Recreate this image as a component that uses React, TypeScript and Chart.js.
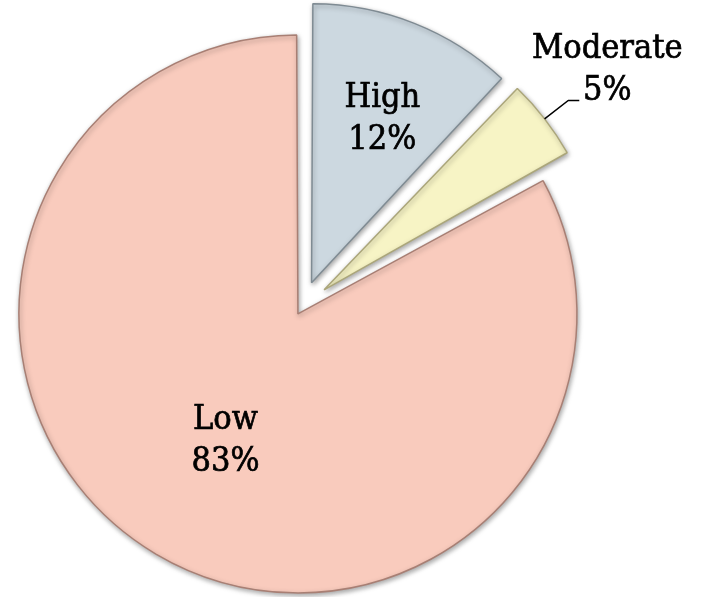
import React, { useEffect, useRef } from "react";
import { Chart, registerables } from "chart.js";

Chart.register(...registerables);

// ---- data ----
const categories: string[] = ["High", "Moderate", "Low"];
const percentages: number[] = [12, 5, 83];

// ---- styles ----
const sliceColors: string[] = ["#CCD8E0", "#F7F4C5", "#F9CBBD"];
const edgeColors: string[] = ["#7F8B93", "#ABA67A", "#A87F74"];
const explodeOffsets: number[] = [104, 112, 32];
const PIE_RADIUS = 279;
const LABEL_FONT = '34px "DejaVu Serif Condensed", "DejaVu Serif", "Liberation Serif", serif';

function sliceGeometry(arc: any) {
  const off = (arc.options.offset || 0) / 4;
  const mid = (arc.startAngle + arc.endAngle) / 2;
  const cx = arc.x + Math.cos(mid) * off;
  const cy = arc.y + Math.sin(mid) * off;
  return { cx, cy, mid };
}

// keep the drawn radius of each exploded slice equal
const radiusFixPlugin = {
  id: "radiusFix",
  afterDatasetUpdate(chart: any, args: any) {
    const meta = args.meta;
    meta.data.forEach((arc: any) => {
      const off = (arc.options.offset || 0) / 4;
      const circ = arc.endAngle - arc.startAngle;
      const fix = 1 - Math.sin(Math.min(Math.PI, circ));
      arc.outerRadius = PIE_RADIUS - off * fix;
    });
  },
};

const shadowPlugin = {
  id: "sliceShadow",
  beforeDatasetDraw(chart: any) {
    const ctx = chart.ctx;
    ctx.save();
    ctx.shadowColor = "rgba(0,0,0,0.35)";
    ctx.shadowBlur = 5;
    ctx.shadowOffsetX = 1;
    ctx.shadowOffsetY = 2;
  },
  afterDatasetDraw(chart: any) {
    chart.ctx.restore();
  },
};

function boldText(ctx: CanvasRenderingContext2D, text: string, x: number, y: number) {
  ctx.fillText(text, x, y);
  ctx.strokeText(text, x, y);
}

const labelPlugin = {
  id: "sliceLabels",
  afterDatasetsDraw(chart: any) {
    const ctx = chart.ctx;
    const meta = chart.getDatasetMeta(0);
    const values = chart.data.datasets[0].data as number[];
    const labels = chart.data.labels as string[];
    ctx.save();
    ctx.font = LABEL_FONT;
    ctx.fillStyle = "#000000";
    meta.data.forEach((arc: any, i: number) => {
      const { cx, cy, mid } = sliceGeometry(arc);
      const pct = values[i] + "%";
      ctx.textAlign = "center";
      ctx.textBaseline = "alphabetic";
      if (values[i] < 8) {
        const sx = cx + Math.cos(mid) * PIE_RADIUS;
        const sy = cy + Math.sin(mid) * PIE_RADIUS;
        const ex = cx + Math.cos(mid) * (PIE_RADIUS + 30);
        const ey = cy + Math.sin(mid) * (PIE_RADIUS + 30);
        const hx = ex + 11;
        ctx.strokeStyle = "#000000";
        ctx.lineWidth = 1.5;
        ctx.beginPath();
        ctx.moveTo(sx, sy);
        ctx.lineTo(ex, ey);
        ctx.lineTo(hx, ey);
        ctx.stroke();
        ctx.lineWidth = 0.7;
        boldText(ctx, pct, hx + 28, ey + 0);
        boldText(ctx, labels[i], hx + 28, ey - 42);
      } else {
        const frac = values[i] > 50 ? 0.51 : 0.65;
        const px = cx + Math.cos(mid) * PIE_RADIUS * frac + (values[i] > 50 ? 0 : 4);
        const py = cy + Math.sin(mid) * PIE_RADIUS * frac;
        ctx.strokeStyle = "#000000";
        ctx.lineWidth = 0.7;
        boldText(ctx, labels[i], px, py - 7);
        boldText(ctx, pct, px, py + 35);
      }
    });
    ctx.restore();
  },
};

export default function App() {
  const canvasRef = useRef<HTMLCanvasElement | null>(null);

  useEffect(() => {
    if (!canvasRef.current) return;
    const chart = new Chart(canvasRef.current, {
      type: "pie",
      data: {
        labels: categories,
        datasets: [
          {
            data: percentages,
            backgroundColor: sliceColors,
            borderColor: edgeColors,
            borderWidth: 1.5,
            offset: explodeOffsets,
            radius: PIE_RADIUS,
          } as any,
        ],
      },
      options: {
        animation: false,
        responsive: false,
        maintainAspectRatio: false,
        layout: { padding: { left: 0, right: 105, top: 17, bottom: 0 } },
        plugins: {
          legend: { display: false },
          tooltip: { enabled: false },
        },
      },
      plugins: [radiusFixPlugin, shadowPlugin, labelPlugin],
    });
    return () => chart.destroy();
  }, []);

  return (
    <div style={{ position: "fixed", left: 0, top: 0, width: 709, height: 597, background: "#ffffff" }}>
      <canvas ref={canvasRef} width={709} height={597} style={{ width: 709, height: 597, display: "block" }} />
    </div>
  );
}
